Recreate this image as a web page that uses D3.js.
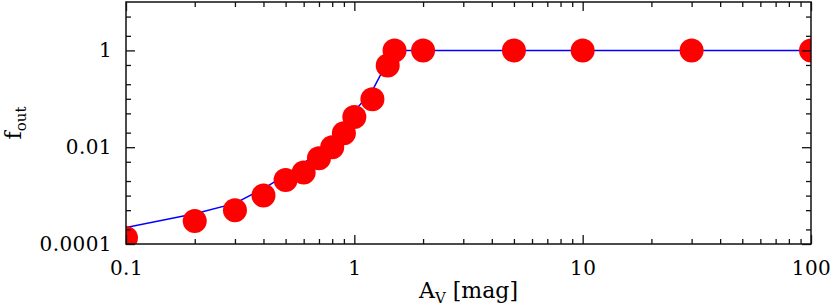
<!DOCTYPE html>
<html>
<head>
<meta charset="utf-8">
<script src="https://cdn.jsdelivr.net/npm/d3@7/dist/d3.min.js"></script>
<style>
	body{margin:0;background:#fff;}
	svg text{font-family:"DejaVu Serif",serif;fill:#000;}
</style>
</head>
<body>
<div id="chart"></div>
<script>
// measured points (A_V, f_out)
var av_pts=[0.1,0.2,0.3,0.4,0.5,0.6,0.7,0.8,0.9,1.0,1.2,1.4,1.5,2,5,10,30,100];
var fout_pts=[1.33e-4,3.0e-4,5.0e-4,1.0e-3,2.1e-3,3.0e-3,5.9e-3,0.01,0.0195,0.042,0.098,0.49,1,1,1,1,1,1];
// model curve
var av_line=[0.1,0.2,0.3,0.4,0.5,0.6,0.7,0.8,0.9,1.0,1.2,1.4,1.5,2,5,10,30,100];
var fout_line=[2.2e-4,4.2e-4,6.9e-4,1.4e-3,2.65e-3,4.7e-3,7.9e-3,0.0146,0.027,0.055,0.15,0.59,1,1,1,1,1,1];

var xmajor=[0.1,1,10,100];
var xlabels=["0.1","1","10","100"];
var ymajor=[1e-4,1e-2,1];
var ylabels=["0.0001","0.01","1"];

var width=830, height=307;
var pleft=126, pright=811, ptop=2, pbottom=244;

var svg=d3.select("#chart").append("svg")
	.attr("width",width)
	.attr("height",height);

var x=d3.scaleLog().domain([0.1,100]).range([pleft,pright]);
var y=d3.scaleLog().domain([1e-4,10]).range([pbottom,ptop]);

// minor ticks
var xminor=[];
[0.1,1,10].forEach(function(d){
	for(var i=2;i<=9;i++){xminor.push(d*i);}
});
var yminor=[];
[1e-4,1e-3,1e-2,1e-1,1].forEach(function(d){
	[1,2,5].forEach(function(m){
		var v=d*m;
		if(ymajor.indexOf(v)<0){yminor.push(v);}
	});
});

svg.append("clipPath").attr("id","plotclip")
	.append("rect")
	.attr("x",pleft).attr("y",ptop)
	.attr("width",pright-pleft).attr("height",pbottom-ptop);

var plot=svg.append("g").attr("clip-path","url(#plotclip)");

var line=d3.line()
	.x(function(d,i){return x(av_line[i]);})
	.y(function(d){return y(d);});

plot.append("path")
	.datum(fout_line)
	.attr("d",line)
	.style("fill","none")
	.style("stroke","#0000ff")
	.style("stroke-width",1.5);

plot.selectAll("circle")
	.data(fout_pts)
	.enter().append("circle")
	.attr("cx",function(d,i){return x(av_pts[i]);})
	.attr("cy",function(d){return y(d);})
	.attr("r",12)
	.style("fill","#ff0000");

function styleAxis(g){
	g.select(".domain").remove();
	g.selectAll("line").style("stroke","#111").style("stroke-width",1.3);
	g.selectAll("text").style("font-size","20px").style("font-family","'DejaVu Serif',serif")
		.style("letter-spacing","0.4px");
}

// bottom
svg.append("g").attr("transform","translate(0,"+pbottom+")")
	.call(d3.axisBottom(x).tickValues(xminor).tickSize(-5).tickFormat(""))
	.call(styleAxis);
svg.append("g").attr("transform","translate(0,"+pbottom+")")
	.call(d3.axisBottom(x).tickValues(xmajor).tickSize(-9).tickPadding(17)
		.tickFormat(function(d,i){return xlabels[i];}))
	.call(styleAxis);
// top
svg.append("g").attr("transform","translate(0,"+ptop+")")
	.call(d3.axisTop(x).tickValues(xminor).tickSize(-5).tickFormat(""))
	.call(styleAxis);
svg.append("g").attr("transform","translate(0,"+ptop+")")
	.call(d3.axisTop(x).tickValues(xmajor).tickSize(-9).tickFormat(""))
	.call(styleAxis);
// left
svg.append("g").attr("transform","translate("+pleft+",0)")
	.call(d3.axisLeft(y).tickValues(yminor).tickSize(-5).tickFormat(""))
	.call(styleAxis);
svg.append("g").attr("transform","translate("+pleft+",0)")
	.call(d3.axisLeft(y).tickValues(ymajor).tickSize(-9).tickPadding(14)
		.tickFormat(function(d,i){return ylabels[i];}))
	.call(styleAxis);
// right
svg.append("g").attr("transform","translate("+pright+",0)")
	.call(d3.axisRight(y).tickValues(yminor).tickSize(-5).tickFormat(""))
	.call(styleAxis);
svg.append("g").attr("transform","translate("+pright+",0)")
	.call(d3.axisRight(y).tickValues(ymajor).tickSize(-9).tickFormat(""))
	.call(styleAxis);

// frame
svg.append("rect")
	.attr("x",pleft).attr("y",ptop)
	.attr("width",pright-pleft).attr("height",pbottom-ptop)
	.style("fill","none")
	.style("stroke","#111")
	.style("stroke-width",1.5);

// axis titles
var xt=svg.append("text")
	.attr("x",(pleft+pright)/2)
	.attr("y",298)
	.attr("text-anchor","middle")
	.style("font-size","22px");
xt.append("tspan").text("A");
xt.append("tspan").attr("dy",5).style("font-size","15px").text("V");
xt.append("tspan").attr("dy",-5).text(" [mag]");

var yt=svg.append("text")
	.attr("transform","translate(21,"+((ptop+pbottom)/2)+") rotate(-90)")
	.attr("text-anchor","middle")
	.style("font-size","22px");
yt.append("tspan").text("f");
yt.append("tspan").attr("dy",5).style("font-size","15px").text("out");
</script>
</body>
</html>
